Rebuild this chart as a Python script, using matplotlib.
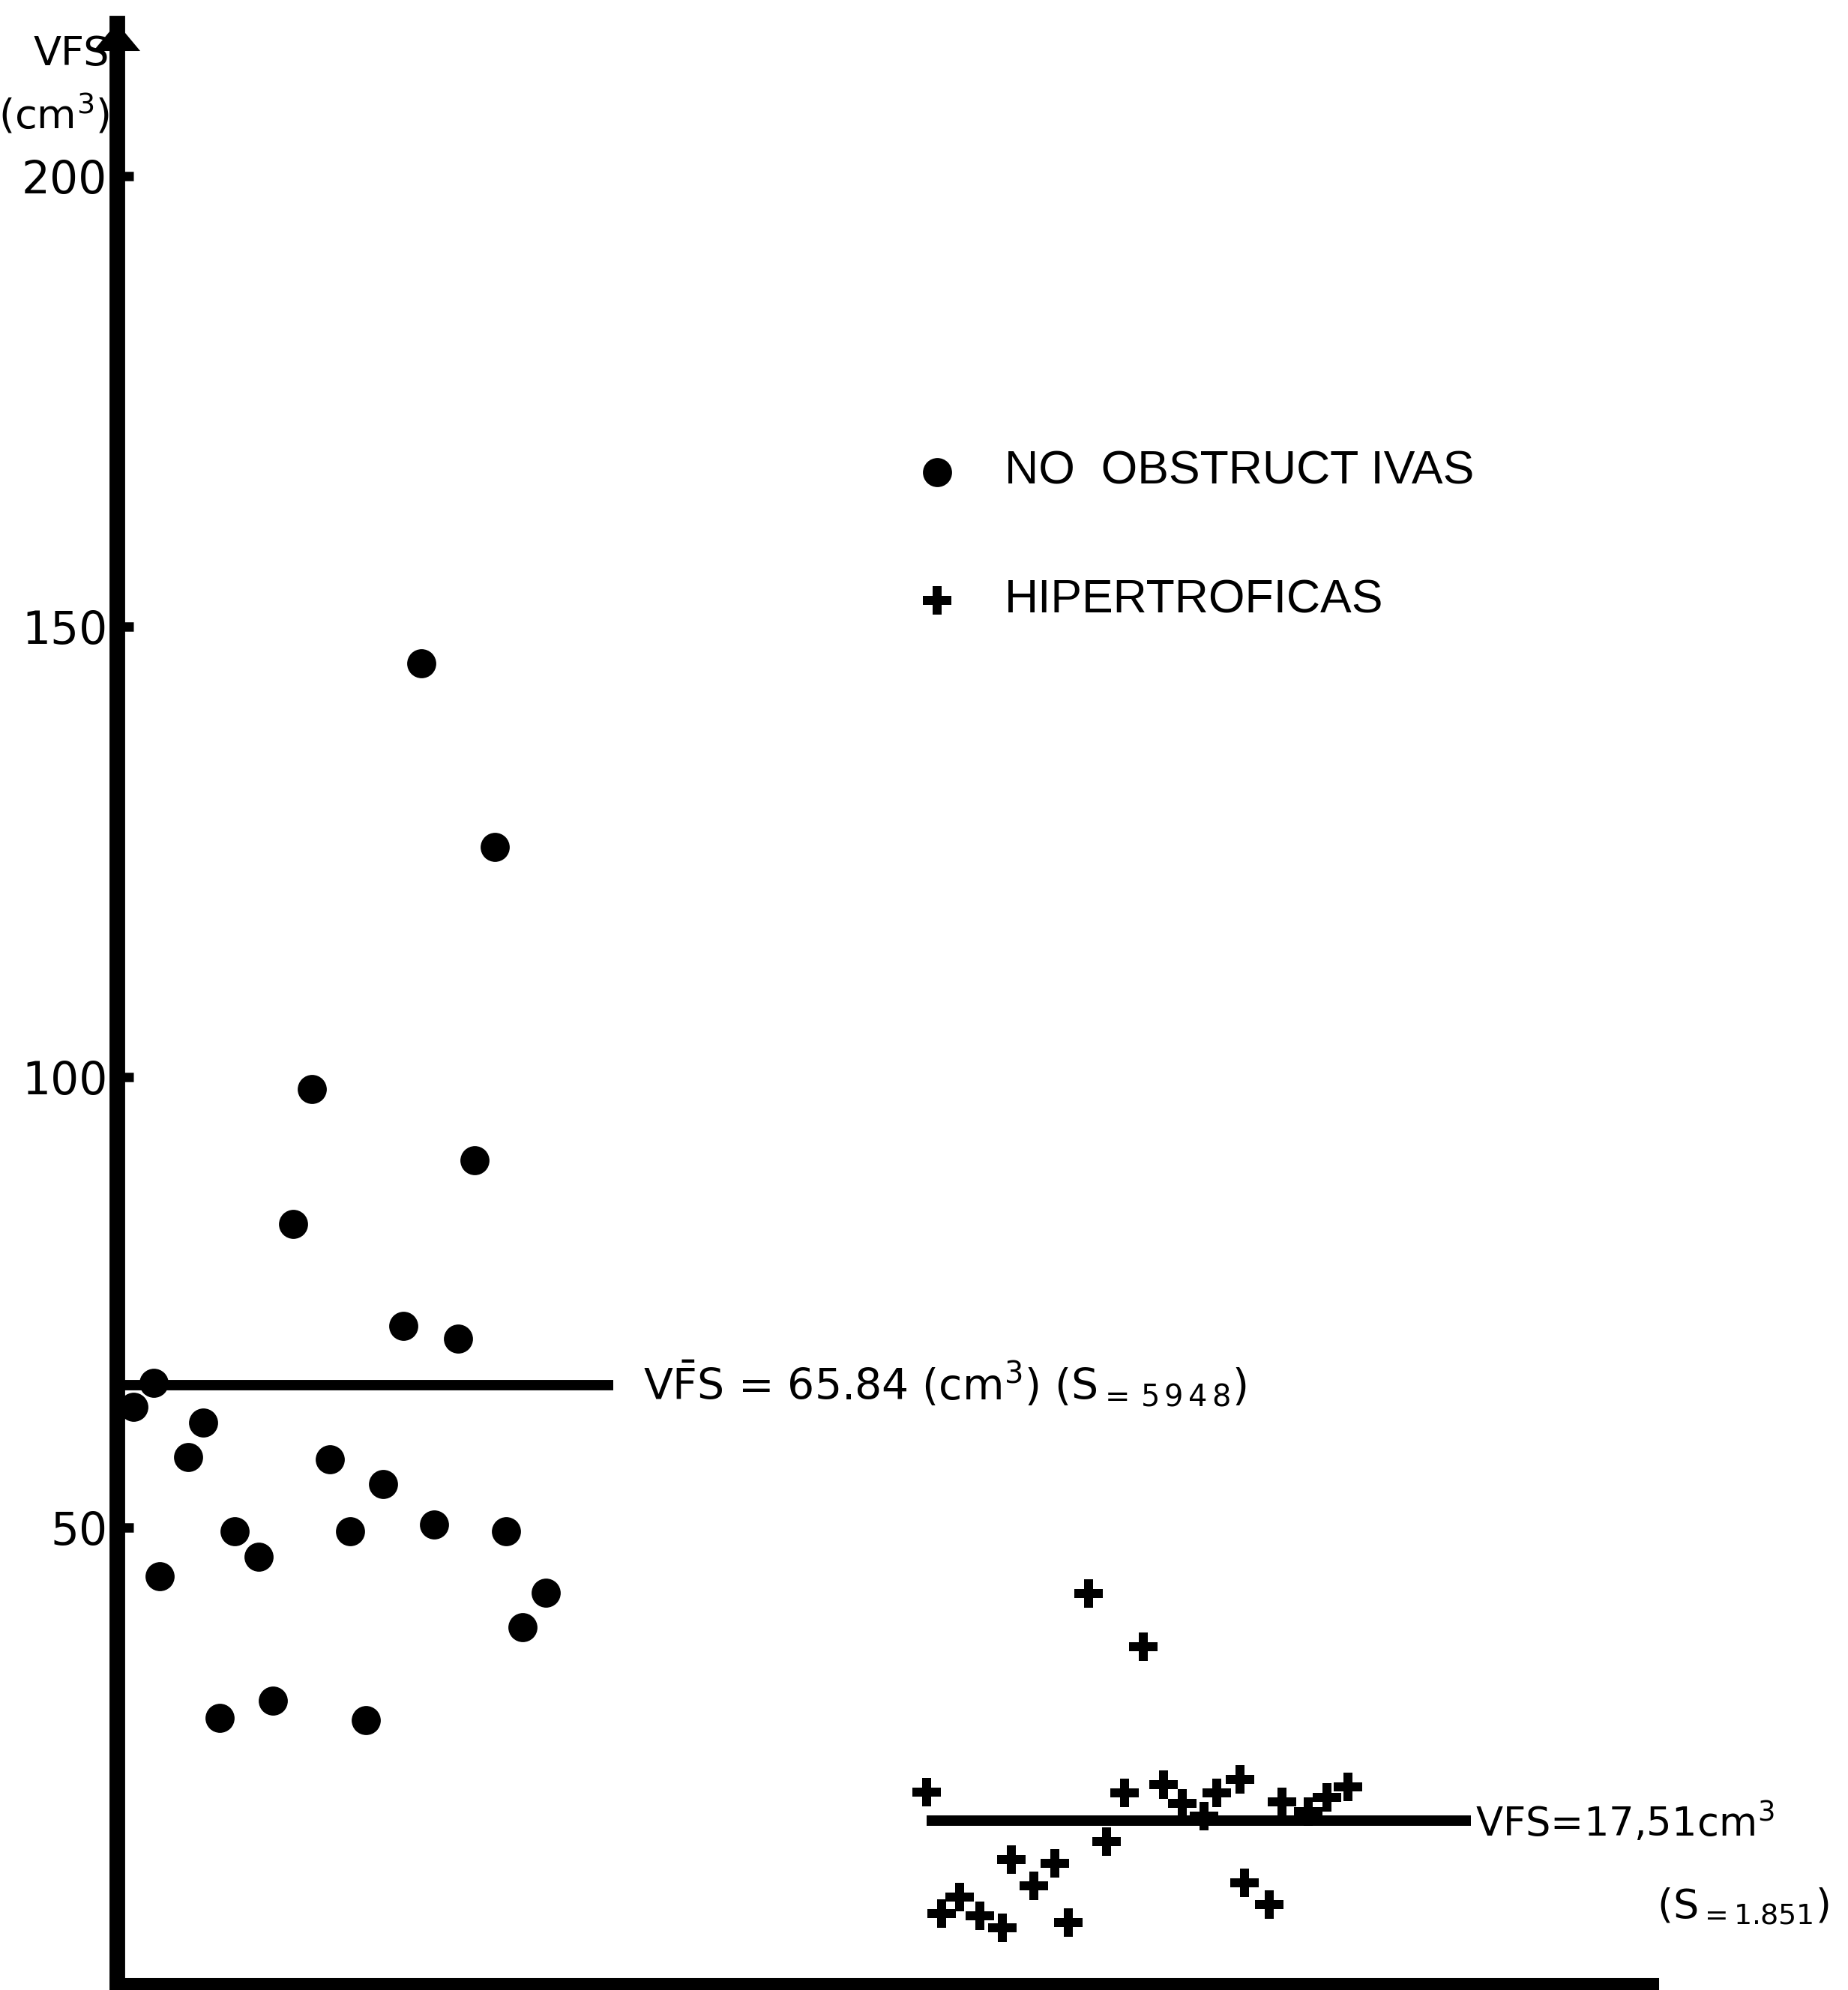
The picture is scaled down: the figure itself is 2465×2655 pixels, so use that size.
import numpy as np
import matplotlib.pyplot as plt

# values; x is only the horizontal scatter position (no units)
no_obst_x = [24.0, 29.8, 15.4, 28.2, 13.9, 22.6, 26.9, 2.9, 1.3, 6.8, 5.6, 16.8,
             21.0, 9.3, 18.4, 25.0, 30.7, 11.2, 3.4, 33.8, 32.0, 12.3, 8.1, 19.6]
no_obst_vfs = [145.9, 125.6, 98.7, 90.8, 83.7, 72.4, 71.0, 66.1, 63.4, 61.7, 57.9, 57.6,
               54.9, 49.6, 49.6, 50.4, 49.6, 46.8, 44.6, 42.8, 39.0, 30.8, 28.9, 28.7]

hiper_x = [63.8, 79.4, 82.5, 84.0, 85.7, 86.7, 88.5, 91.8, 93.9, 95.4, 97.0, 78.0,
           70.5, 73.9, 72.3, 66.4, 65.0, 68.0, 69.8, 75.0, 88.9, 90.8, 76.6, 80.9]
hiper_vfs = [20.7, 20.6, 21.5, 19.4, 18.0, 20.6, 22.1, 19.6, 18.5, 20.1, 21.3, 15.2,
             13.2, 12.8, 10.3, 9.0, 7.2, 7.0, 5.6, 6.2, 10.6, 8.2, 42.7, 36.8]

mean_no_obst = 65.84
mean_hiper = 17.51
span_no_obst = [0, 39.1]
span_hiper = [63.8, 106.7]

yticks = [50, 100, 150, 200]
legend_labels = ['NO  OBSTRUCT IVAS', 'HIPERTROFICAS']

plt.rcParams['font.family'] = 'DejaVu Sans'
plt.rcParams['mathtext.fontset'] = 'dejavusans'

fig = plt.figure(figsize=(24.65, 26.55), dpi=100)
ax = fig.add_axes([0.0632, 0.0026, 0.894 - 0.0632, 0.9885 - 0.0026])

ax.scatter(no_obst_x, no_obst_vfs, s=780, marker='o', color='black', linewidths=0,
           label=legend_labels[0], zorder=3)
ax.scatter(hiper_x, hiper_vfs, s=780, marker='P', color='black', linewidths=0,
           label=legend_labels[1], zorder=3)

# mean lines
ax.plot(span_no_obst, [mean_no_obst, mean_no_obst], color='black', lw=10,
        solid_capstyle='butt', zorder=2)
ax.plot(span_hiper, [mean_hiper, mean_hiper], color='black', lw=10,
        solid_capstyle='butt', zorder=2)

ax.text(span_no_obst[1] + 2.4, mean_no_obst - 1.7,
        r'V$\bar{\mathrm{F}}$S = 65.84 (cm$^{3}$) (S$_{=\,5\,9\,4\,8}$)',
        fontsize=41, va='baseline', ha='left')
ax.text(span_hiper[1] + 0.4, mean_hiper - 1.7, r'VFS=17,51cm$^{3}$',
        fontsize=38, va='baseline', ha='left')
ax.text(span_hiper[1] + 14.7, mean_hiper - 10.9, r'(S$_{=1.851}$)',
        fontsize=39, va='baseline', ha='left')

ax.set_xlim(0, 121)
ax.set_ylim(-0.7, 217)
ax.set_yticks(yticks)
ax.set_yticklabels([str(t) for t in yticks])
ax.set_xticks([])
ax.tick_params(axis='y', direction='in', length=16, width=9, pad=9, labelsize=43)

for side in ['top', 'right']:
    ax.spines[side].set_visible(False)
ax.spines['left'].set_linewidth(15)
ax.spines['bottom'].set_linewidth(13)

# arrow head on the y axis
ax.annotate('', xy=(0, 1.0), xycoords='axes fraction', xytext=(0, 0.97),
            arrowprops=dict(arrowstyle='-|>,head_length=0.6,head_width=0.5',
                            mutation_scale=45, color='black', lw=0,
                            shrinkA=0, shrinkB=0),
            annotation_clip=False)

# y axis title
fig.text(0.0594, 0.9825, 'VFS\n(cm$^{3}$)', fontsize=39, ha='right', va='top',
         multialignment='right', linespacing=1.55)

ax.legend(loc='upper left', bbox_to_anchor=(1200 / 2465, 1 - 600 / 2655),
          bbox_transform=fig.transFigure, frameon=False,
          prop={'family': 'Liberation Sans', 'size': 45},
          handlelength=1.6, handletextpad=0.64, labelspacing=1.8,
          borderpad=0, borderaxespad=0, scatterpoints=1)

fig.savefig('out.png', dpi=100)
plt.close()
